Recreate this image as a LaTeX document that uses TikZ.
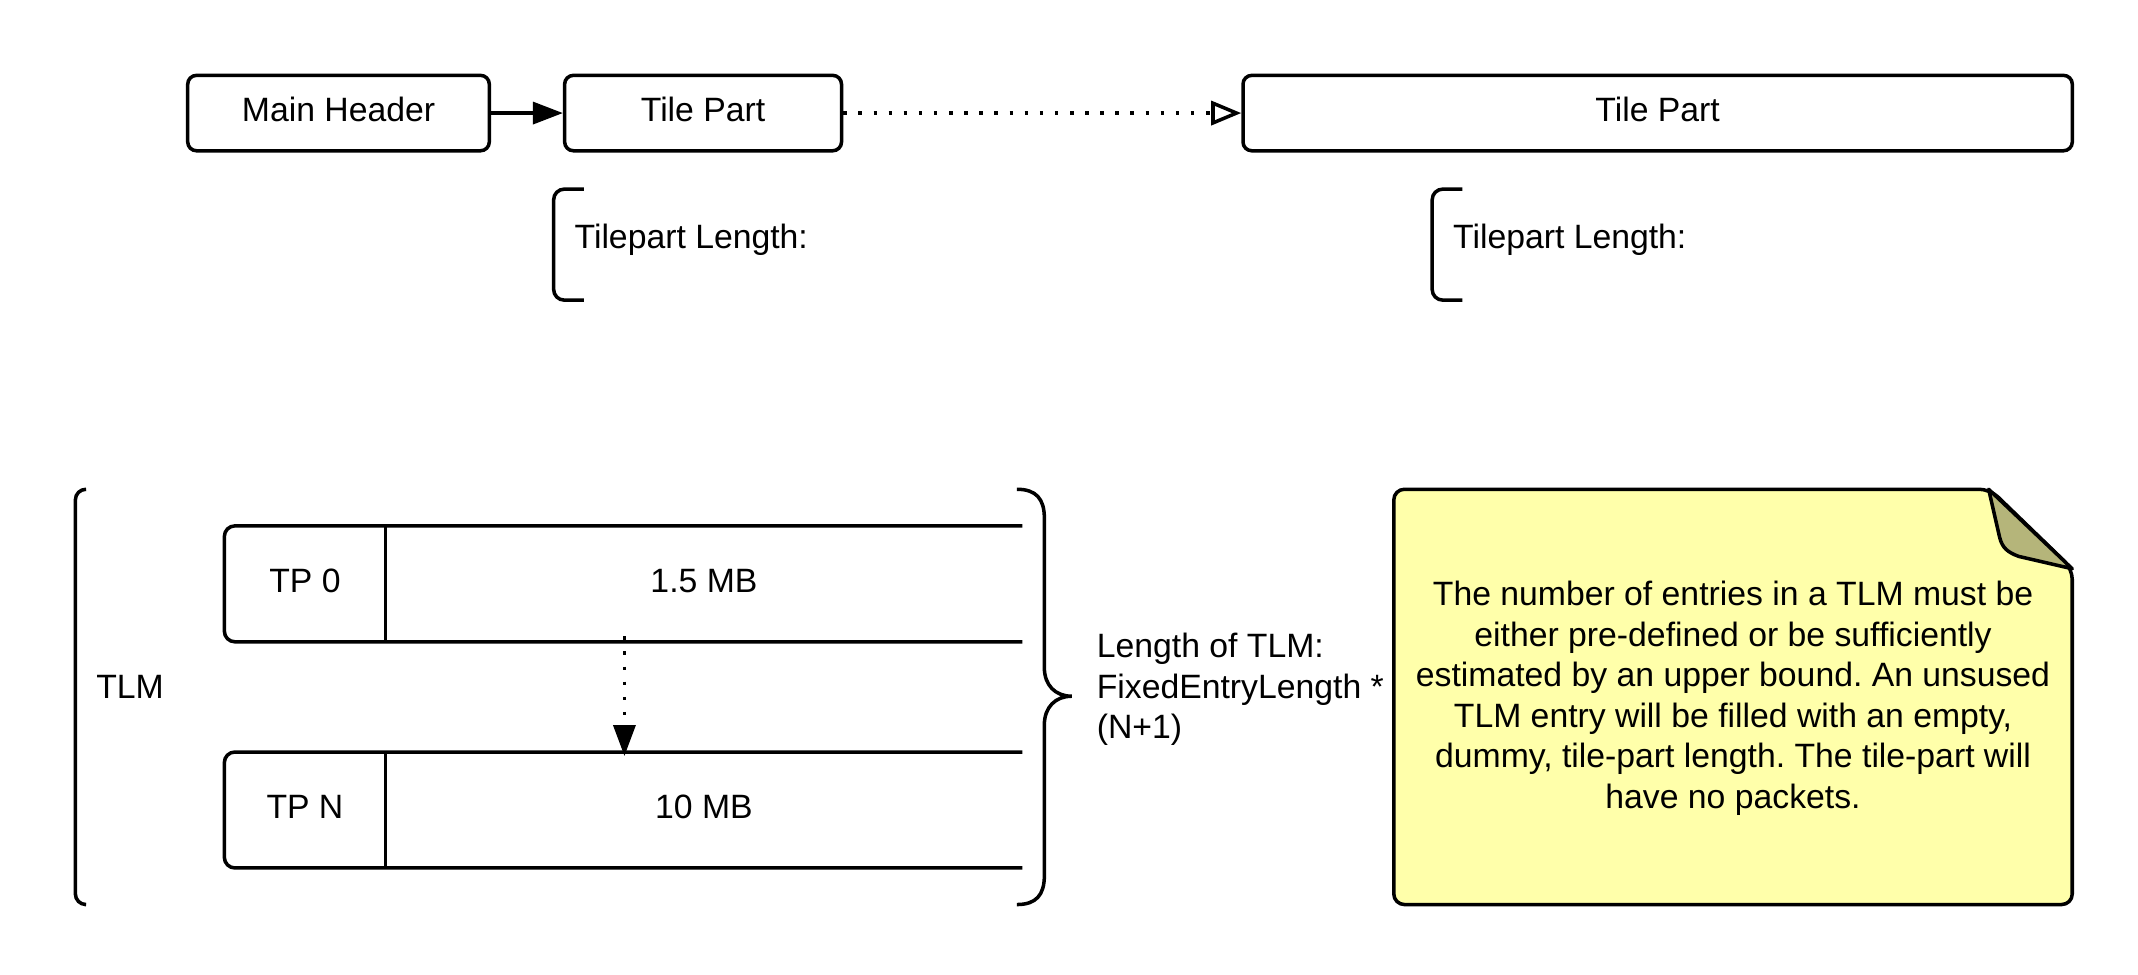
\documentclass[tikz,border=0pt]{standalone}
\usepackage{fontspec}
\setmainfont{Liberation Sans}
\usetikzlibrary{arrows.meta}
\definecolor{noteyellow}{HTML}{FFFFAA}
\definecolor{notefold}{HTML}{B5B57A}
\frenchspacing
\begin{document}
\begin{tikzpicture}[x=0.013705cm,y=-0.013705cm,font=\fontsize{9.6pt}{11.5pt}\selectfont,line width=1pt]
\tikzstyle{mybox}=[draw,rounded corners=2.5pt,minimum height=0.754cm,inner sep=0pt,text height=0.72em,text depth=0.25em]
\tikzstyle{mycell}=[inner sep=0pt,minimum height=1.124cm,text height=0.72em,text depth=0.25em]
\tikzstyle{mybracket}=[rounded corners=3pt]
\tikzstyle{mytext}=[anchor=west,inner sep=0pt]
\tikzstyle{mydots}=[dash pattern=on 1pt off 3.3pt]
\useasboundingbox (0,0) rectangle (1560,711.4);

\node[mybox,minimum width=3.015cm] (mh) at (247,82.5) {Main Header};
\node[mybox,minimum width=2.768cm] (tp1) at (513,82.5) {Tile Part};
\node[mybox,minimum width=8.291cm] (tp2) at (1209.5,82.5) {Tile Part};

\draw [-{Triangle[length=0.3cm,width=0.22cm]}] (mh) edge (tp1);
\draw [mydots,-{Triangle[open,length=0.3cm,width=0.24cm]}] (tp1) edge (tp2);

\draw [mybracket] (426,138) -- (404,138) -- (404,219) -- (426,219);
\node[mytext] (len1) at (418,175) {Tilepart Length:};
\draw [mybracket] (1067,138) -- (1045,138) -- (1045,219) -- (1067,219);
\node[mytext] (len2) at (1059,175) {Tilepart Length:};

% TLM table
\draw [mybracket] (62,357) -- (55,357) -- (55,660) -- (62,660);
\node[mytext] (tlm) at (69,501) {TLM};

\node[mycell,minimum width=1.576cm] (tp0) at (222.5,426) {TP 0};
\node[mycell,minimum width=6.332cm,anchor=west] (sz0) at (tp0.east) {1.5 MB};
\node[mycell,minimum width=1.576cm] (tpn) at (222.5,591) {TP N};
\node[mycell,minimum width=6.332cm,anchor=west] (szn) at (tpn.east) {10 MB};

\draw [rounded corners=3pt] (sz0.north east) -- (tp0.north west) -- (tp0.south west) -- (sz0.south east);
\draw (tp0.north east) -- (tp0.south east);
\draw [rounded corners=3pt] (szn.north east) -- (tpn.north west) -- (tpn.south west) -- (szn.south east);
\draw (tpn.north east) -- (tpn.south east);

\draw [mydots,-{Triangle[length=0.31cm,width=0.22cm]}] ([xshift=-0.795cm,yshift=0.055cm]sz0.south) -- ([xshift=-0.795cm,yshift=-0.04cm]szn.north);

\draw (742,357) .. controls (756,357) and (762,364) .. (762,378) -- (762,487) .. controls (762,500) and (770,508) .. (782,508) .. controls (770,508) and (762,516) .. (762,529) -- (762,639) .. controls (762,653) and (756,660) .. (742,660);
\node[mytext,align=left] (tlmlen) at (799,503) {Length of TLM:\\FixedEntryLength *\\(N+1)};

% note
\draw [fill=noteyellow,rounded corners=3pt] (1017,357) -- (1452,357) -- (1512,415) -- (1512,660) -- (1017,660) -- cycle;
\draw [fill=notefold,line join=round] (1451,357) -- (1459,392) .. controls (1461,400) and (1465,403) .. (1473,406) -- (1512,415) -- cycle;
\node[align=center] (notetext) at (1264.5,509.5) {The number of entries in a TLM must be\\either pre-defined or be sufficiently\\estimated by an upper bound. An unsused\\TLM entry will be filled with an empty,\\dummy, tile-part length. The tile-part will\\have no packets.};

\end{tikzpicture}
\end{document}
